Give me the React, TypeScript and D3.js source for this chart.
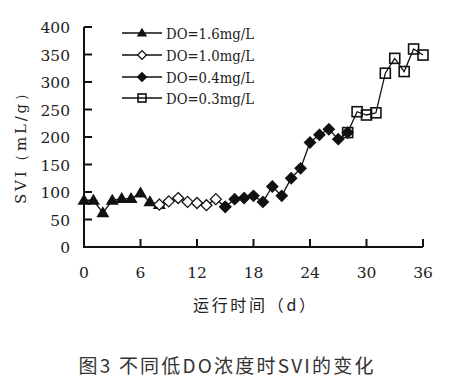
import React from "react";
import * as d3 from "d3";

const seriesNames = ["DO=1.6mg/L", "DO=1.0mg/L", "DO=0.4mg/L", "DO=0.3mg/L"];
const markerTypes = ["triangle", "diamondOpen", "diamond", "squareOpen"];

const daysDO16 = [0, 1, 2, 3, 4, 5, 6, 7, 8];
const svDO16 = [85, 85, 62, 85, 88, 88, 98, 82, 77];

const daysDO10 = [8, 9, 10, 11, 12, 13, 14, 15];
const svDO10 = [77, 83, 89, 82, 80, 76, 87, 73];

const daysDO04 = [15, 16, 17, 18, 19, 20, 21, 22, 23, 24, 25, 26, 27, 28];
const svDO04 = [73, 87, 89, 93, 82, 110, 93, 125, 143, 190, 204, 214, 196, 208];

const daysDO03 = [28, 29, 30, 31, 32, 33, 34, 35, 36];
const svDO03 = [208, 246, 240, 244, 316, 343, 319, 360, 349];

const xTicks = [0, 6, 12, 18, 24, 30, 36];
const yTicks = [0, 50, 100, 150, 200, 250, 300, 350, 400];

const xTitle = "运行时间（d）";
const yTitle = "SVI（mL/g）";
const caption = "图3  不同低DO浓度时SVI的变化";

function Marker({ type, x, y, s = 1 }: { type: string; x: number; y: number; s?: number }) {
  if (type === "triangle") {
    const w = 6.5 * s, h = 11 * s;
    return <path d={`M${x},${y - h * 0.6}L${x + w},${y + h * 0.4}L${x - w},${y + h * 0.4}Z`} fill="#111" />;
  }
  if (type === "diamondOpen" || type === "diamond") {
    const r = 5.5 * s;
    return (
      <path
        d={`M${x},${y - r}L${x + r},${y}L${x},${y + r}L${x - r},${y}Z`}
        fill={type === "diamond" ? "#111" : "#fff"}
        stroke="#111"
        strokeWidth={1.3}
      />
    );
  }
  const r = 5 * s;
  return <rect x={x - r} y={y - r} width={2 * r} height={2 * r} fill="none" stroke="#111" strokeWidth={1.6} />;
}

export default function App() {
  const x = d3.scaleLinear().domain([0, 36]).range([84, 423]);
  const y = d3.scaleLinear().domain([0, 400]).range([247, 27]);

  const series = [
    { days: daysDO16, vals: svDO16 },
    { days: daysDO10, vals: svDO10 },
    { days: daysDO04, vals: svDO04 },
    { days: daysDO03, vals: svDO03 },
  ];

  const line = d3
    .line<[number, number]>()
    .x((d) => x(d[0]))
    .y((d) => y(d[1]));

  const serif = "'DejaVu Serif', 'Liberation Serif', serif";
  const legendY = [33, 55, 77, 98];

  return (
    <svg width={450} height={384} style={{ position: "absolute", left: 0, top: 0, background: "#fff" }}>
      <rect width={450} height={384} fill="#fff" />
      {/* axes */}
      <path d={`M${x(0)},${y(400)}V${y(0)}H${x(36)}`} fill="none" stroke="#111" strokeWidth={2} />
      {yTicks.map((t) => (
        <g key={"y" + t}>
          <line x1={x(0)} x2={x(0) + 8} y1={y(t)} y2={y(t)} stroke="#111" strokeWidth={2} />
          <text x={70} y={y(t) + 2} textAnchor="end" dominantBaseline="middle" fontFamily={serif} fontSize={15.5} fill="#222">
            {t}
          </text>
        </g>
      ))}
      {xTicks.map((t) => (
        <g key={"x" + t}>
          {t > 0 && <line x1={x(t)} x2={x(t)} y1={y(0)} y2={y(0) - 8} stroke="#111" strokeWidth={2} />}
          <text x={x(t)} y={278} textAnchor="middle" fontFamily={serif} fontSize={15.5} fill="#222">
            {t}
          </text>
        </g>
      ))}
      {/* axis titles */}
      <text x={254} y={311} textAnchor="middle" fontFamily="'Noto Sans CJK SC', sans-serif" fontSize={16} fill="#222" textLength={122} lengthAdjust="spacing">
        {xTitle}
      </text>
      <text
        transform={`translate(26,145) rotate(-90)`}
        textAnchor="middle"
        fontFamily={serif}
        fontSize={15}
        fill="#222"
        textLength={118}
        lengthAdjust="spacing"
      >
        {yTitle}
      </text>
      {/* series */}
      {series.map((s, i) => {
        const pts: [number, number][] = s.days.map((d, j) => [d, s.vals[j]]);
        return (
          <g key={"s" + i}>
            <path d={line(pts) || ""} fill="none" stroke="#111" strokeWidth={1.3} />
            {pts.map((p, j) => (
              <Marker key={j} type={markerTypes[i]} x={x(p[0])} y={y(p[1])} />
            ))}
          </g>
        );
      })}
      {/* legend */}
      {seriesNames.map((n, i) => (
        <g key={"l" + i}>
          <line x1={122} x2={162} y1={legendY[i]} y2={legendY[i]} stroke="#111" strokeWidth={1.5} />
          <Marker type={markerTypes[i]} x={142} y={legendY[i]} s={0.8} />
          <text x={166} y={legendY[i] + 6} fontFamily={serif} fontSize={15} fill="#222" textLength={88} lengthAdjust="spacingAndGlyphs">
            {n}
          </text>
        </g>
      ))}
      {/* caption */}
      <text x={226} y={373} textAnchor="middle" fontFamily="'Noto Sans CJK SC', sans-serif" fontSize={19} fill="#333" textLength={295} lengthAdjust="spacing">
        {caption}
      </text>
    </svg>
  );
}
